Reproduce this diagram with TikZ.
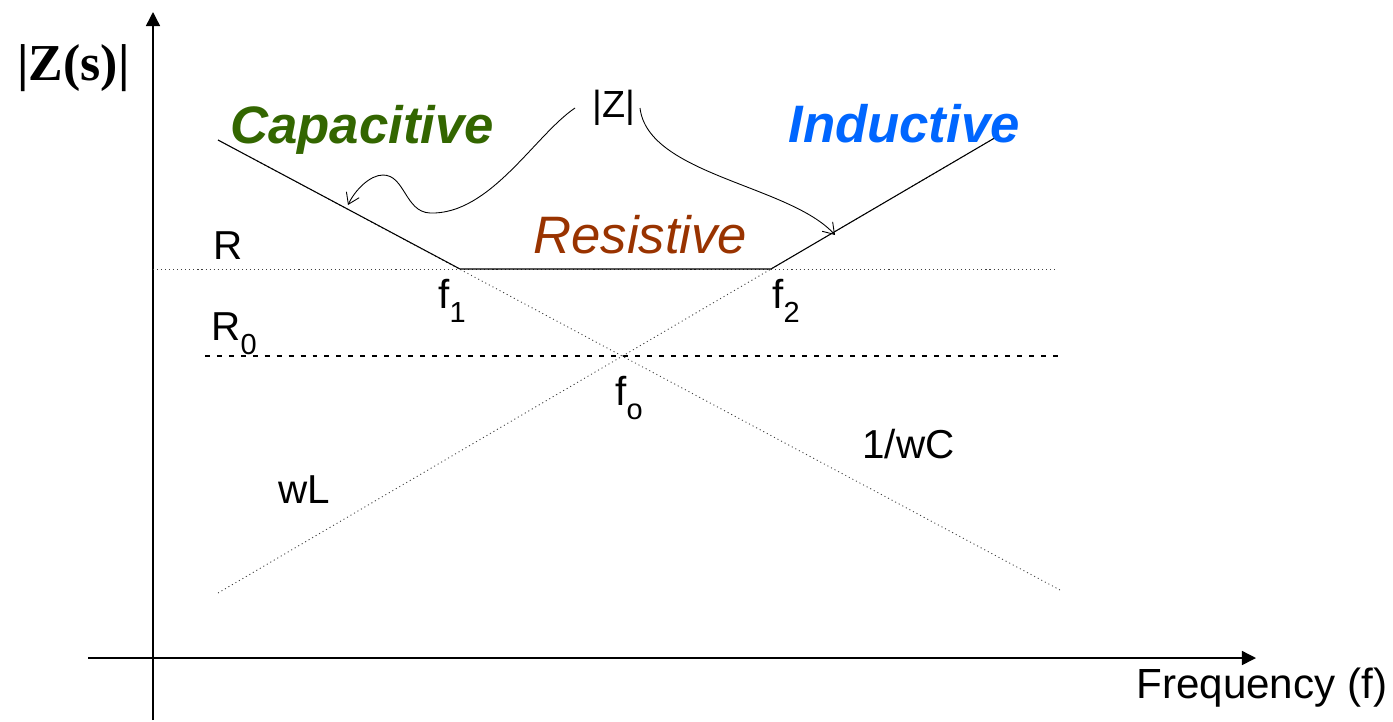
\documentclass[tikz,border=0pt]{standalone}
\usepackage{fontspec}
\setmainfont{Liberation Sans}
\newfontfamily\timesf{Liberation Serif}
\usetikzlibrary{arrows.meta}
\newcommand{\lsub}[1]{\raisebox{-8.5pt}{\fontsize{16.5}{18}\selectfont #1}}
\definecolor{capgreen}{HTML}{336600}
\definecolor{indblue}{HTML}{0066FF}
\definecolor{resbrown}{HTML}{993300}
\begin{document}
\begin{tikzpicture}[x=0.02cm,y=-0.02cm,
  lbl/.style={inner sep=0pt, anchor=base west, font=\fontsize{23}{26}\selectfont},
  big/.style={inner sep=0pt, anchor=base west, font=\fontsize{30}{34}\selectfont},
  axis/.style={line width=0.8pt, -{Triangle[length=8pt,width=8pt]}},
  asym/.style={black!75, line width=0.5pt, dash pattern=on 0.6pt off 1.7pt},
  zline/.style={line width=0.6pt},
  rzero/.style={line width=1.1pt, dash pattern=on 2.8pt off 4pt},
  pointer/.style={line width=0.5pt, -{Straight Barb[length=6pt,width=8pt]}}]
\useasboundingbox (0,0) rectangle (1393,721);
% axes
\coordinate (yb) at (153,720);
\coordinate (yt) at (153,12);
\coordinate (xl) at (88,658);
\coordinate (xr) at (1256,658);
\draw[axis] (yb) -- (yt);
\draw[axis] (xl) -- (xr);
% key points
\coordinate (rl) at (153,269);
\coordinate (rr) at (1058,269);
\coordinate (r0l) at (205,356);
\coordinate (r0r) at (1058,356);
\coordinate (c0) at (218,140);
\coordinate (f1) at (460,269);
\coordinate (c1) at (1060,590);
\coordinate (l0) at (218,593);
\coordinate (f2) at (771,269);
\coordinate (l1) at (998,136);
% asymptotes
\draw[asym] (rl) -- (rr);
\draw[rzero] (r0l) -- (r0r);
\draw[asym] (c0) -- (c1);
\draw[asym] (l0) -- (l1);
% |Z| curve
\draw[zline] (c0) -- (f1) -- (f2) -- (l1);
% labels
\node[inner sep=0pt, anchor=base west, font=\timesf\bfseries\fontsize{29.5}{33}\selectfont] (zs) at (17,80) {|Z(s)|};
\node[big, font=\fontsize{30}{34}\selectfont\bfseries\itshape, text=capgreen] (cap) at (230,143) {Capacitive};
\node[big, font=\fontsize{30}{34}\selectfont\bfseries\itshape, text=indblue] (ind) at (788,142) {Inductive};
\node[big, font=\fontsize{30}{34}\selectfont\itshape, text=resbrown] (res) at (533,253) {Resistive};
\node[lbl, font=\fontsize{21.5}{24}\selectfont] (zabs) at (592,117) {|Z|};
\node[lbl] (rlab) at (213,259) {R};
\node[lbl] (r0lab) at (211,340) {R\lsub{0}};
\node[lbl] (f1lab) at (438,308) {f\lsub{1}};
\node[lbl] (f2lab) at (772,308) {f\lsub{2}};
\node[lbl] (folab) at (615,405) {f\lsub{o}};
\node[lbl] (wclab) at (862,458) {1/wC};
\node[lbl] (wllab) at (278,503) {wL};
\node[lbl, font=\fontsize{24}{27}\selectfont] (freq) at (1136,698) {Frequency (f)};
% pointers
\coordinate (ps1) at (575,108);
\coordinate (pe1) at (348,205);
\coordinate (ps2) at (640,108);
\coordinate (pe2) at (835,235);
\draw[pointer] (ps1) .. controls (535,135) and (490,215) .. (430,213)
  .. controls (405,212) and (405,175) .. (383,175)
  .. controls (370,175) and (355,190) .. (pe1);
\draw[pointer] (ps2) .. controls (648,175) and (790,185) .. (pe2);
\end{tikzpicture}
\end{document}
